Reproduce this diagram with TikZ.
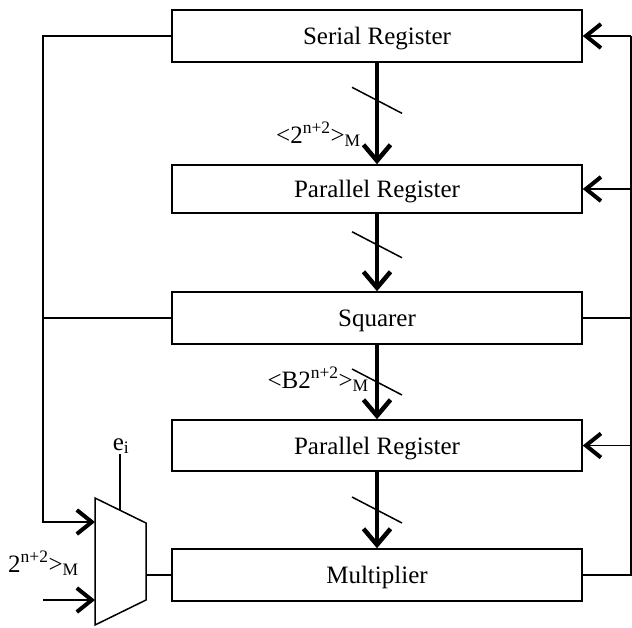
\documentclass[tikz,border=0pt]{standalone}
\usepackage{fontspec}
\setmainfont{Liberation Serif}
\usetikzlibrary{arrows.meta,calc}

\tikzset{
    block/.style={draw, line width=1.5pt, minimum width=410pt, minimum height=52pt, inner sep=0pt, text depth=0pt, font=\fontsize{25}{30}\selectfont},
    wire/.style={line width=1.5pt},
    bus/.style={line width=4pt, -{Straight Barb[length=16pt,width=27pt,line width=4.5pt]}},
    feed/.style={line width=1.5pt, -{Straight Barb[length=15pt,width=24pt,line width=4pt]}},
    lbl/.style={inner sep=0pt, font=\fontsize{25}{30}\selectfont},
}

\begin{document}
\begin{tikzpicture}[x=1pt, y=-1pt]
    \useasboundingbox (0,0) rectangle (632,627);
    \node[block] (ser) at (377,36) {Serial Register};
    \node[block, minimum height=48pt] (par1) at (377,189) {Parallel Register};
    \node[block] (sq) at (377,318) {Squarer};
    \node[block, minimum height=51pt] (par2) at (377,445.5) {Parallel Register};
    \node[block] (mul) at (377,575) {Multiplier};
    % multiplexer
    \draw[wire] (95,498) -- (146,523) -- (146,600) -- (95,625) -- cycle;
    \coordinate (in1) at (95,522);
    \coordinate (in2) at (95,600);
    \coordinate (src) at (43,600);
    \coordinate (out) at (146,575);
    \coordinate (sel) at (120,510);
    \coordinate (lb) at (43,0);
    \coordinate (rb) at (631,0);
    % data path
    \draw[bus] (ser.south) -- (par1.north);
    \draw[bus] (par1.south) -- (sq.north);
    \draw[bus] (sq.south) -- (par2.north);
    \draw[bus] (par2.south) -- (mul.north);
    \draw[wire] ($(ser.south)!0.37!(par1.north)+(-25,-13)$) -- ++(50,26);
    \draw[wire] ($(par1.south)!0.40!(sq.north)+(-25,-13)$) -- ++(50,26);
    \draw[wire] ($(sq.south)!0.50!(par2.north)+(-25,-13)$) -- ++(50,26);
    \draw[wire] ($(par2.south)!0.50!(mul.north)+(-25,-13)$) -- ++(50,26);
    \node[lbl, anchor=base east] (m1) at (361,143) {<2\textsuperscript{n+2}>\textsubscript{M}};
    \node[lbl, anchor=base east] (m2) at (369,388) {<B2\textsuperscript{n+2}>\textsubscript{M}};
    % left side
    \draw[feed] (ser.west) -- (ser.west -| lb) |- (in1);
    \draw[wire] (sq.west) -- (sq.west -| lb);
    \draw[feed] (src) -- (in2);
    \node[lbl, anchor=base west] (m3) at (8,572) {2\textsuperscript{n+2}>\textsubscript{M}};
    \node[lbl] (ei) at (121,446) {e\textsubscript{i}};
    \draw[wire] (sel |- ei.south) -- (sel);
    \draw[wire] (out) -- (mul.west);
    % right side
    \draw[wire] (mul.east) -- (mul.east -| rb) -- (ser.east -| rb);
    \draw[wire] (sq.east) -- (sq.east -| rb);
    \draw[feed] (ser.east -| rb) -- (ser.east);
    \draw[feed] (par1.east -| rb) -- (par1.east);
    \draw[feed] (par2.east -| rb) -- (par2.east);
\end{tikzpicture}
\end{document}
